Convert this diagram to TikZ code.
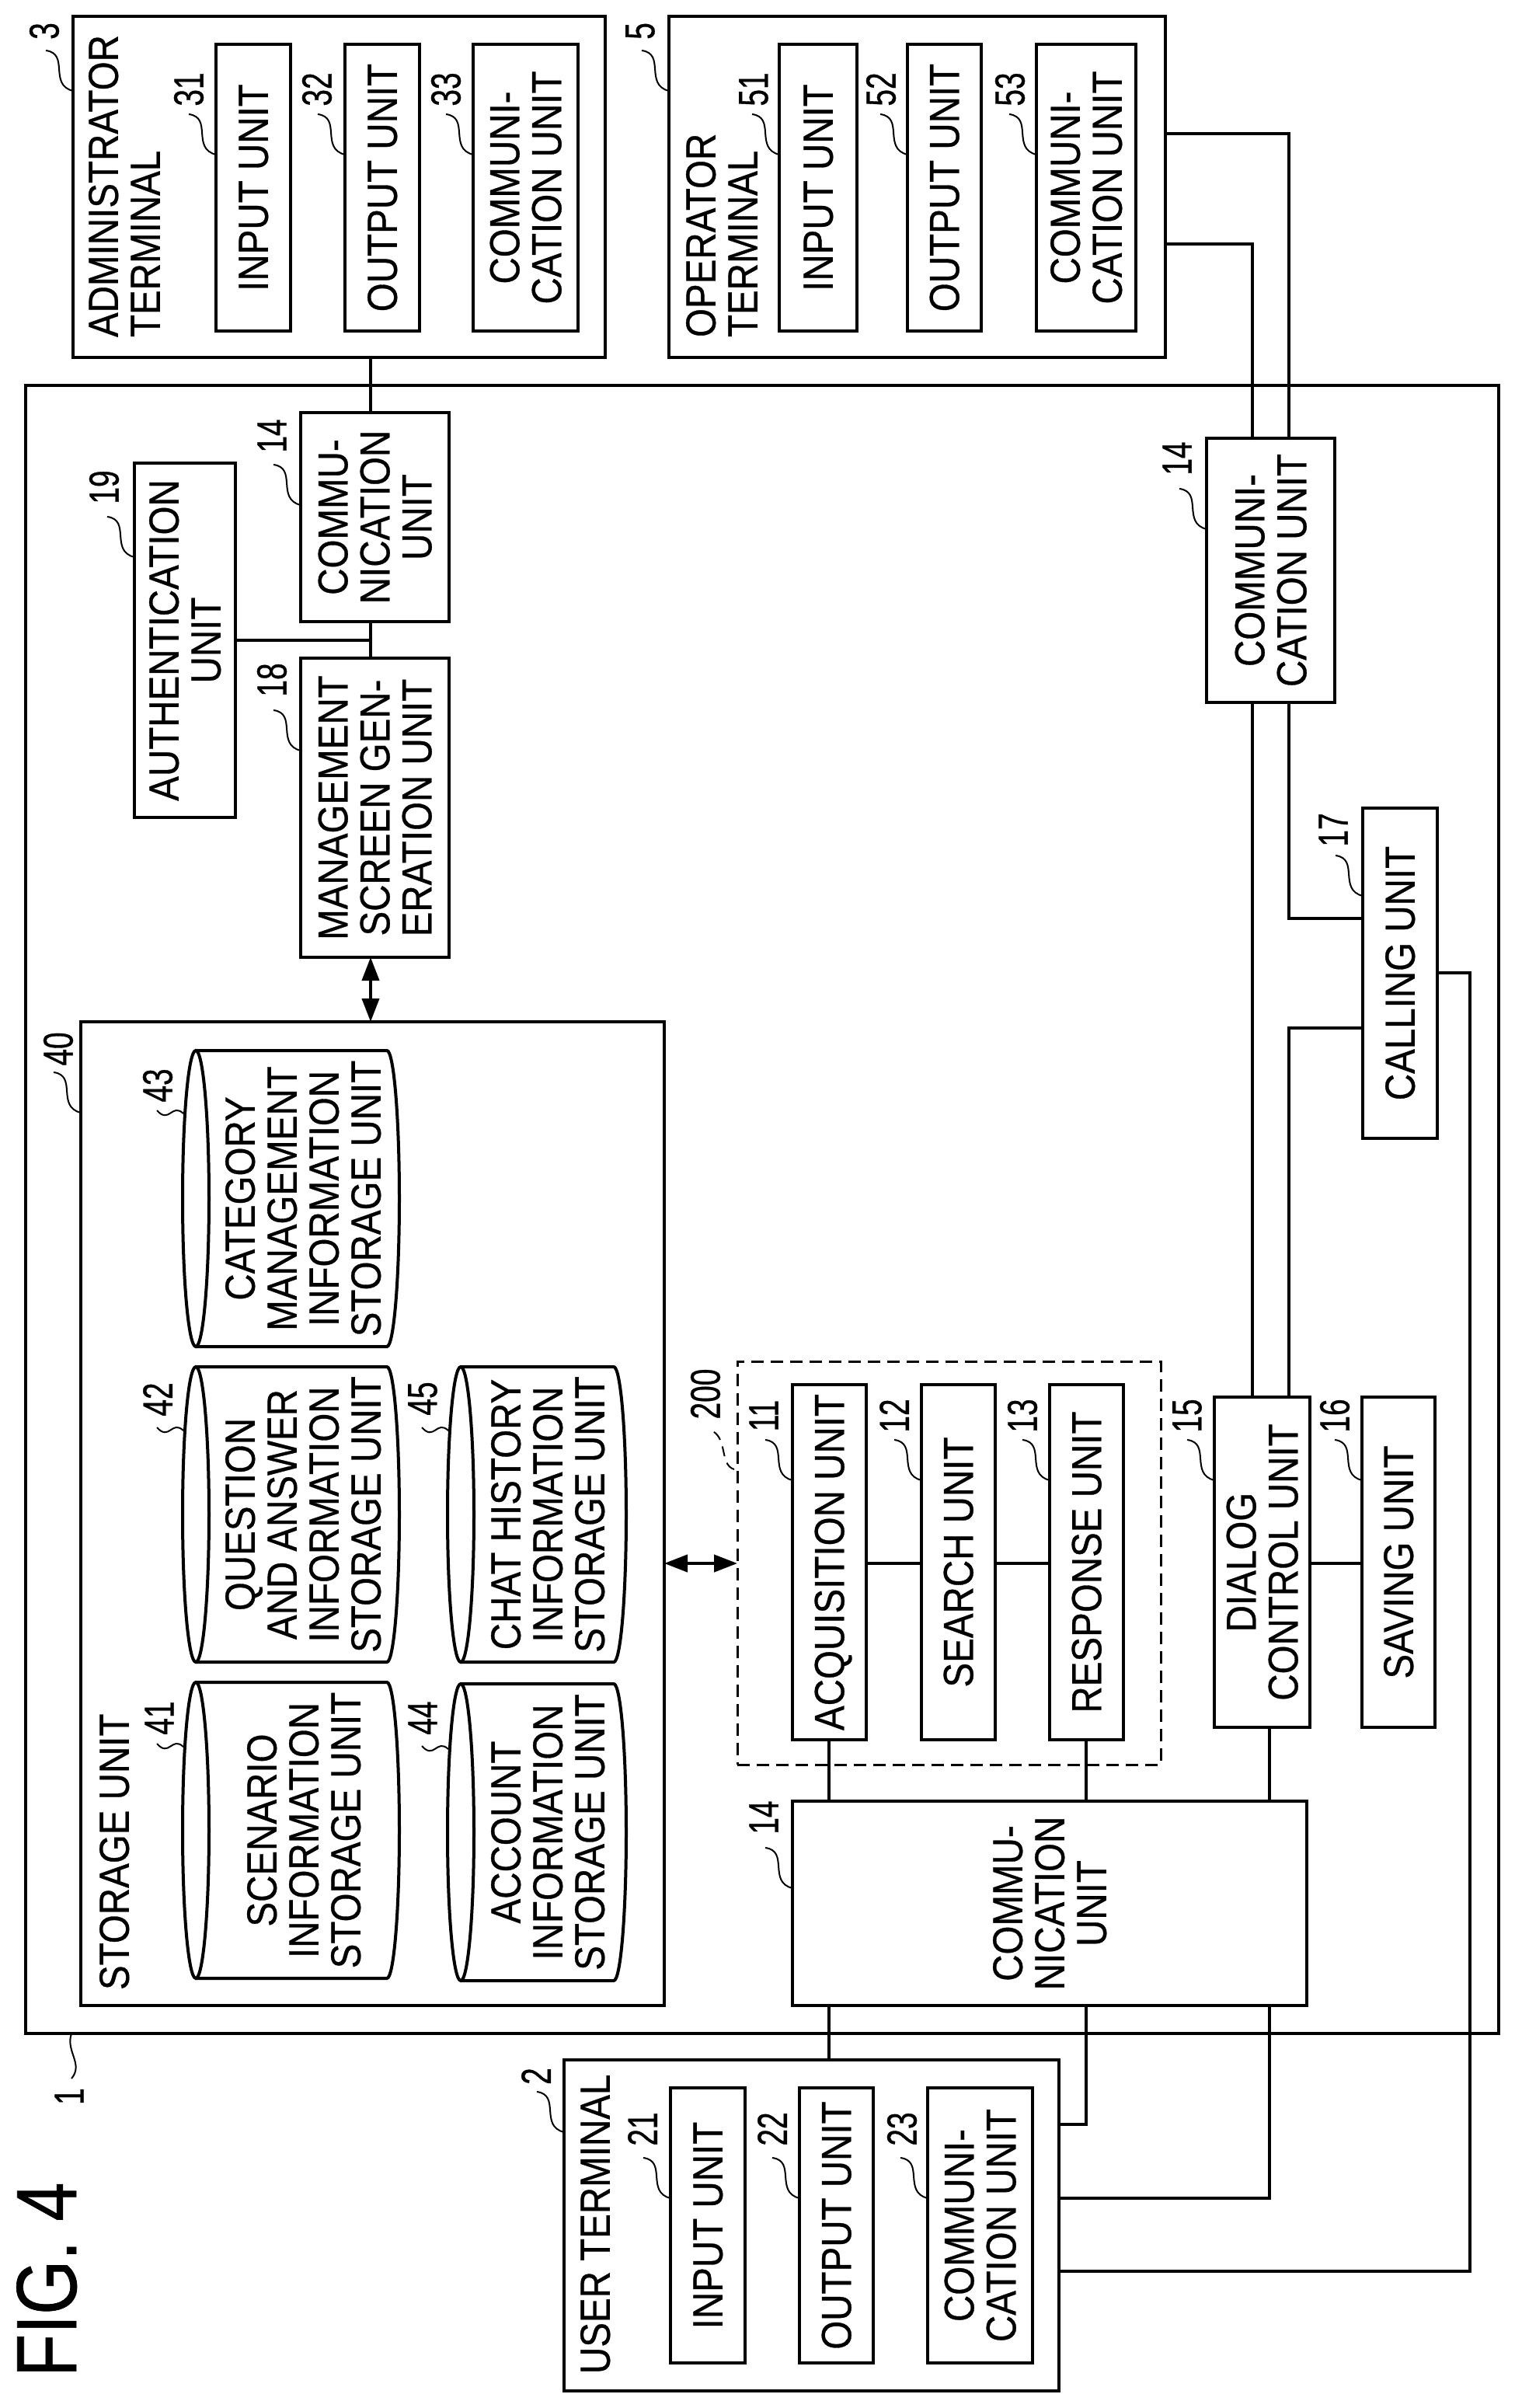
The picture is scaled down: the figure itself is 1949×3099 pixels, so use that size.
\documentclass[tikz,border=0pt]{standalone}
\usepackage{fontspec}
\setmainfont[FakeStretch=0.88,FakeBold=0.6]{Liberation Sans}
\newfontfamily\numf[FakeStretch=0.72,FakeBold=0.6]{Liberation Sans}
\newfontfamily\figf[FakeStretch=0.82,FakeBold=0.6]{Liberation Sans}
\usetikzlibrary{arrows.meta}
\newcommand{\rt}[1]{\makebox[0pt][c]{\kern16pt\rotatebox{90}{\begin{tabular}{@{}c@{}}#1\end{tabular}}}}
\newcommand{\rl}[1]{\rotatebox{90}{\begin{tabular}{@{}l@{}}#1\end{tabular}}}
% box: name, x1, y1, x2, y2, text
\newcommand{\bx}[6]{\node[unitbox,minimum width={(#4-#2)*1pt},minimum height={(#5-#3)*1pt}] (#1) at ({(#2+#4)/2},{(#3+#5)/2}) {#6};}
% cylinder: name, x centre of top ellipse, x centre of far arc, y1, y2, text x, text
\newcommand{\cyl}[7]{%
  \pgfmathsetmacro{\ry}{(#5-#4)/2}%
  \draw[cylline] (#2,#4) -- (#3,#4) arc[start angle=90,end angle=-90,x radius=16pt,y radius=\ry pt] -- (#2,#5);
  \draw[cylline] (#2,{(#4+#5)/2}) ellipse[x radius=17pt,y radius=\ry pt];
  \node[plain] (#1) at (#6,{(#4+#5)/2}) {\rt{#7}};}
% leader: name, attach x,y, number x,y, text
\newcommand{\ldr}[6]{%
  \node[numlabel] (#1) at (#4,#5) {\rotatebox{90}{#6}};
  \coordinate (#1a) at (#2,#3);
  \coordinate (#1b) at ({#2-35},{#3-52});
  \draw[leader] (#1a) .. controls ({#2-32},{#3-8}) and ({#2-4},{#3-48}) .. (#1b);}
\newcommand{\ldh}[6]{%
  \node[numlabel] (#1) at (#4,#5) {\rotatebox{90}{#6}};
  \coordinate (#1a) at (#2,#3);
  \coordinate (#1b) at ({#2-34},{#3-4});
  \draw[leader] (#1a) .. controls ({#2-15},{#3-14}) and ({#2-18},{#3+14}) .. (#1b);}
\tikzset{
  unitbox/.style={draw,line width=4pt,inner sep=0pt,outer sep=0pt,font=\fontsize{54}{54}\selectfont},
  plain/.style={inner sep=0pt,outer sep=0pt,font=\fontsize{54}{54}\selectfont},
  cylline/.style={line width=4pt},
  numlabel/.style={inner sep=0pt,font=\fontsize{54}{54}\selectfont\numf},
  leader/.style={line width=2pt},
  wire/.style={line width=4pt},
  both/.style={line width=4pt,{Triangle[length=30pt,width=22pt]}-{Triangle[length=30pt,width=22pt]}},
  groupbox/.style={draw,line width=3pt,dash pattern=on 16pt off 9pt,inner sep=0pt,outer sep=0pt},
}
\begin{document}
\begin{tikzpicture}[x=1pt,y=-1pt]
\useasboundingbox (0,0) rectangle (1949,3099);
% FIG label
\node[plain,font=\fontsize{110}{110}\selectfont\figf,anchor=south west] (fig) at (21,3059) {\rl{FIG. 4}};
% main box
\bx{main}{33}{496}{1929}{2617}{}
% administrator terminal
\bx{admin}{94}{21}{779}{460}{}
\node[plain,anchor=south west] (adminl) at (114,434) {\rl{ADMINISTRATOR\\TERMINAL}};
\bx{a1}{278}{57}{374}{426}{\rt{INPUT UNIT}}
\bx{a2}{444}{57}{540}{426}{\rt{OUTPUT UNIT}}
\bx{a3}{609}{57}{744}{426}{\rt{COMMUNI-\\CATION UNIT}}
% operator terminal
\bx{oper}{861}{21}{1500}{460}{}
\node[plain,anchor=south west] (operl) at (883,434) {\rl{OPERATOR\\TERMINAL}};
\bx{o1}{1003}{57}{1103}{426}{\rt{INPUT UNIT}}
\bx{o2}{1168}{57}{1263}{426}{\rt{OUTPUT UNIT}}
\bx{o3}{1334}{57}{1462}{426}{\rt{COMMUNI-\\CATION UNIT}}
% user terminal
\bx{user}{726}{2651}{1363}{3077}{}
\node[plain,anchor=south west] (userl) at (747,3055) {\rl{USER TERMINAL}};
\bx{u1}{863}{2687}{959}{3041}{\rt{INPUT UNIT}}
\bx{u2}{1029}{2687}{1124}{3041}{\rt{OUTPUT UNIT}}
\bx{u3}{1194}{2687}{1329}{3041}{\rt{COMMUNI-\\CATION UNIT}}
% upper left units
\bx{auth}{173}{596}{303}{1052}{\rt{AUTHENTICATION\\UNIT}}
\bx{coma}{387}{531}{578}{800}{\rt{COMMU-\\NICATION\\UNIT}}
\bx{mgmt}{387}{847}{578}{1232}{\rt{MANAGEMENT\\SCREEN GEN-\\ERATION UNIT}}
% storage
\bx{stor}{104}{1315}{855}{2581}{}
\node[plain,anchor=south west] (storl) at (128,2561) {\rl{STORAGE UNIT}};
\cyl{c43}{252}{498}{1352}{1733}{390}{CATEGORY\\MANAGEMENT\\INFORMATION\\STORAGE UNIT}
\cyl{c42}{252}{498}{1759}{2139}{390}{QUESTION\\AND ANSWER\\INFORMATION\\STORAGE UNIT}
\cyl{c41}{252}{498}{2165}{2546}{391}{SCENARIO\\INFORMATION\\STORAGE UNIT}
\cyl{c45}{593}{790}{1759}{2139}{705}{CHAT HISTORY\\INFORMATION\\STORAGE UNIT}
\cyl{c44}{593}{790}{2167}{2549}{705}{ACCOUNT\\INFORMATION\\STORAGE UNIT}
% group 200
\node[groupbox,minimum width=545pt,minimum height=519pt] (grp) at (1221.5,2011.5) {};
\bx{acq}{1020}{1782}{1115}{2239}{\rt{ACQUISITION UNIT}}
\bx{srch}{1186}{1782}{1281}{2239}{\rt{SEARCH UNIT}}
\bx{resp}{1351}{1782}{1446}{2239}{\rt{RESPONSE UNIT}}
\bx{dial}{1563}{1798}{1686}{2223}{\rt{DIALOG\\CONTROL UNIT}}
\bx{save}{1753}{1798}{1847}{2223}{\rt{SAVING UNIT}}
\bx{comb}{1020}{2318}{1682}{2581}{\rt{COMMU-\\NICATION\\UNIT}}
\bx{comc}{1553}{564}{1718}{904}{\rt{COMMUNI-\\CATION UNIT}}
\bx{call}{1754}{1040}{1850}{1465}{\rt{CALLING UNIT}}
% connectors
\draw[wire] (admin.south -| 477,0) -- (coma.north -| 477,0);
\draw[wire] (coma.south -| 477,0) -- (mgmt.north -| 477,0);
\coordinate (ja) at (477,824);
\draw[wire] (auth.east |- ja) -- (ja);
\draw[both] (mgmt.south -| 477,0) -- (stor.north -| 477,0);
\draw[both] (stor.east |- 0,2012) -- (grp.west |- 0,2012);
\draw[wire] (acq.east |- 0,2012) -- (srch.west |- 0,2012);
\draw[wire] (srch.east |- 0,2012) -- (resp.west |- 0,2012);
\draw[wire] (dial.east |- 0,2012) -- (save.west |- 0,2012);
\draw[wire] (acq.south -| 1067,0) -- (comb.north -| 1067,0);
\draw[wire] (resp.south -| 1398,0) -- (comb.north -| 1398,0);
\draw[wire] (dial.south -| 1634,0) -- (comb.north -| 1634,0);
\draw[wire] (comb.south -| 1067,0) -- (user.north -| 1067,0);
\draw[wire] (user.east |- 0,2734) -| (comb.south -| 1398,0);
\draw[wire] (user.east |- 0,2829) -| (comb.south -| 1634,0);
\coordinate (jc) at (1892,2923);
\draw[wire] (user.east |- jc) -- (jc) |- (call.east |- 0,1252);
\draw[wire] (oper.east |- 0,172) -| (comc.north -| 1659,0);
\draw[wire] (oper.east |- 0,314) -| (comc.north -| 1612,0);
\draw[wire] (comc.south -| 1612,0) -- (dial.north -| 1612,0);
\draw[wire] (comc.south -| 1659,0) |- (call.west |- 0,1182);
\draw[wire] (call.west |- 0,1323) -| (dial.north -| 1659,0);
% reference numerals
\ldr{n3}{94}{117}{57}{40}{3}
\ldr{n31}{278}{199}{243}{115}{31}
\ldr{n32}{444}{199}{408}{115}{32}
\ldr{n33}{609}{199}{574}{115}{33}
\ldr{n5}{861}{117}{824}{40}{5}
\ldr{n51}{1003}{199}{970}{115}{51}
\ldr{n52}{1168}{199}{1134}{115}{52}
\ldr{n53}{1334}{199}{1300}{115}{53}
\ldr{n14a}{387}{650}{350}{561}{14}
\ldr{n19}{173}{717}{134}{627}{19}
\ldr{n18}{387}{966}{350}{875}{18}
\ldr{n14c}{1553}{681}{1515}{590}{14}
\ldr{n17}{1754}{1153}{1716}{1068}{17}
\ldr{n40}{104}{1432}{75}{1350}{40}
\ldh{n43}{236}{1433}{203}{1397}{43}
\ldh{n42}{236}{1841}{203}{1801}{42}
\ldh{n45}{577}{1841}{544}{1800}{45}
\ldh{n41}{236}{2248}{205}{2211}{41}
\ldh{n44}{577}{2251}{544}{2211}{44}
\ldr{n11}{1020}{1905}{983}{1822}{11}
\ldr{n12}{1186}{1905}{1151}{1822}{12}
\ldr{n13}{1351}{1905}{1316}{1822}{13}
\ldr{n15}{1563}{1905}{1528}{1822}{15}
\ldr{n16}{1753}{1905}{1718}{1822}{16}
\ldr{n14b}{1020}{2430}{983}{2339}{14}
\ldr{n2}{726}{2744}{690}{2672}{2}
\ldr{n21}{863}{2829}{827}{2740}{21}
\ldr{n22}{1029}{2829}{994}{2740}{22}
\ldr{n23}{1194}{2829}{1161}{2740}{23}
% numeral 1 and 200
\node[numlabel] (n1) at (89,2698) {\rotatebox{90}{1}};
\coordinate (n1a) at (92,2617);
\coordinate (n1b) at (92,2675);
\draw[leader] (n1a) .. controls (84,2640) and (108,2656) .. (n1b);
\node[numlabel] (n200) at (908,1794) {\rotatebox{90}{200}};
\coordinate (n200a) at (945,1891);
\coordinate (n200b) at (913,1840);
\draw[leader,dash pattern=on 13pt off 9pt] (n200a) .. controls (925,1885) and (938,1848) .. (n200b);
\end{tikzpicture}
\end{document}
